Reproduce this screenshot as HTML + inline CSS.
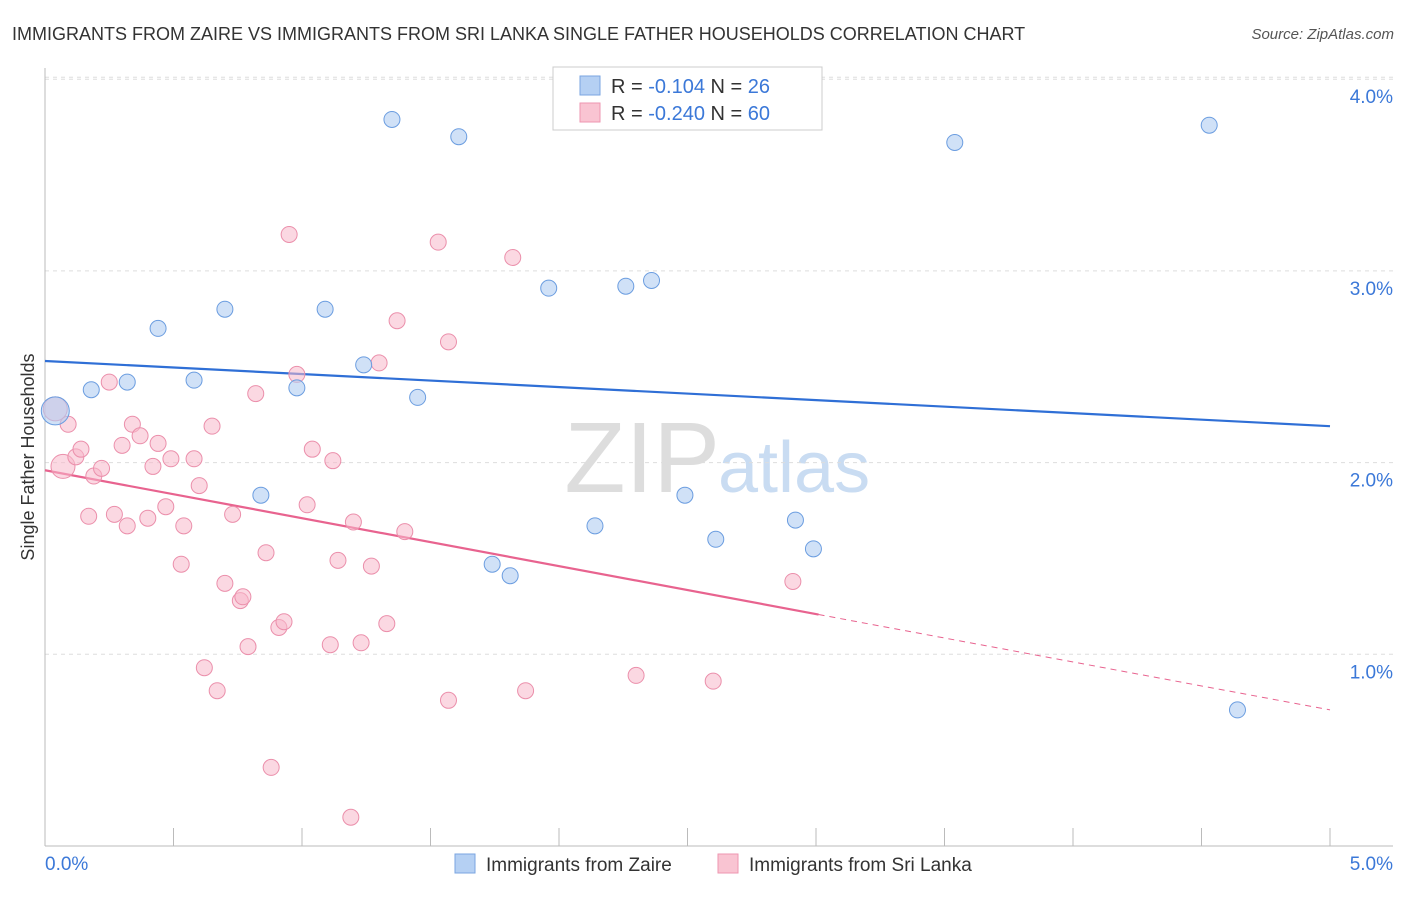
<!DOCTYPE html>
<html><head><meta charset="utf-8"><style>
body{margin:0;background:#fff;font-family:"Liberation Sans",sans-serif}
svg text{font-family:"Liberation Sans",sans-serif}
</style></head><body>
<svg id="chart" width="1406" height="892">
<text x="12" y="40" font-size="18" fill="#333">IMMIGRANTS FROM ZAIRE VS IMMIGRANTS FROM SRI LANKA SINGLE FATHER HOUSEHOLDS CORRELATION CHART</text>
<text x="1394" y="39" font-size="15" fill="#555" font-style="italic" text-anchor="end">Source: ZipAtlas.com</text>
<text x="720" y="492" font-size="100" fill="#ddd" text-anchor="end" font-family="Liberation Serif">ZIP</text>
<text x="718" y="492" font-size="72" fill="#c9dcf2">atlas</text>
<text x="34" y="457" font-size="18" fill="#333" text-anchor="middle" transform="rotate(-90 34 457)">Single Father Households</text>
<g id="grid"></g><g id="lines"></g><g id="pts"></g>
<g>
<rect x="553" y="67" width="269" height="63" fill="#fff" stroke="#ccc"/>
<rect x="580" y="76" width="20" height="19" fill="#b5d0f3" stroke="#7aa5e0"/>
<text x="611" y="93" font-size="20" fill="#333">R = <tspan fill="#3b78d8">-0.104</tspan>   N = <tspan fill="#3b78d8">26</tspan></text>
<rect x="580" y="103" width="20" height="19" fill="#f9c4d2" stroke="#ee96b0"/>
<text x="611" y="120" font-size="20" fill="#333">R = <tspan fill="#3b78d8">-0.240</tspan>   N = <tspan fill="#3b78d8">60</tspan></text>
</g>
<g>
<rect x="455" y="854" width="20" height="19" fill="#b5d0f3" stroke="#7aa5e0"/>
<text x="486" y="871" font-size="19" fill="#333">Immigrants from Zaire</text>
<rect x="718" y="854" width="20" height="19" fill="#f9c4d2" stroke="#ee96b0"/>
<text x="749" y="871" font-size="19" fill="#333">Immigrants from Sri Lanka</text>
</g>
</svg>
<script>
const blueX=[0.04,0.18,0.32,0.44,0.58,0.70,0.84,0.98,1.09,1.24,1.35,1.45,1.61,1.74,1.81,1.96,2.14,2.26,2.36,2.49,2.61,2.92,2.99,3.54,4.53,4.64];
const blueY=[2.27,2.38,2.42,2.70,2.43,2.80,1.83,2.39,2.80,2.51,3.79,2.34,3.70,1.47,1.41,2.91,1.67,2.92,2.95,1.83,1.60,1.70,1.55,3.67,3.76,0.71];
const pinkX=[0.04,0.07,0.09,0.12,0.14,0.17,0.19,0.22,0.25,0.27,0.30,0.32,0.34,0.37,0.40,0.42,0.44,0.47,0.49,0.53,0.54,0.58,0.60,0.62,0.65,0.67,0.70,0.73,0.76,0.77,0.79,0.82,0.86,0.88,0.91,0.93,0.95,0.98,1.02,1.04,1.11,1.12,1.14,1.20,1.23,1.27,1.30,1.33,1.37,1.40,1.53,1.57,1.57,1.82,1.87,2.30,2.60,2.91,1.19];
const pinkY=[2.28,1.98,2.20,2.03,2.07,1.72,1.93,1.97,2.42,1.73,2.09,1.67,2.20,2.14,1.71,1.98,2.10,1.77,2.02,1.47,1.67,2.02,1.88,0.93,2.19,0.81,1.37,1.73,1.28,1.30,1.04,2.36,1.53,0.41,1.14,1.17,3.19,2.46,1.78,2.07,1.05,2.01,1.49,1.69,1.06,1.46,2.52,1.16,2.74,1.64,3.15,2.63,0.76,3.07,0.81,0.89,0.86,1.38,0.15];
const yTicks=[1,2,3,4];
const yTickLabels=["1.0%","2.0%","3.0%","4.0%"];
const xTickLabels=["0.0%","5.0%"];
const blueTrend=[2.53,2.19];
const pinkTrend=[1.96,0.71];
const pinkSolidEnd=3.01;
const NS="http://www.w3.org/2000/svg";
const X=v=>45+v*257, Y=v=>846-v*191.7;
function el(t,a,p){const e=document.createElementNS(NS,t);for(const k in a)e.setAttribute(k,a[k]);p.appendChild(e);return e;}
const grid=document.getElementById('grid'),lines=document.getElementById('lines'),pts=document.getElementById('pts');
yTicks.forEach((t,i)=>{
 const g=el('line',{x1:45,x2:1393,y1:Y(t),y2:Y(t),stroke:'#ddd','stroke-dasharray':'4,4'},grid);
 
 
 const tx=el('text',{x:1393,y:Y(t)+24,'font-size':19,fill:'#3b78d8','text-anchor':'end'},grid);
 tx.textContent=yTickLabels[i];
 
 
});
const gl=el('line',{x1:45,x2:1393,y1:Y(4.0)-2,y2:Y(4.0)-2,stroke:'#ddd','stroke-dasharray':'4,4'},grid);
const ax=el('line',{x1:45,x2:1393,y1:846,y2:846,stroke:'#bbb'},grid);


const ay=el('line',{x1:45,x2:45,y1:68,y2:846,stroke:'#bbb'},grid);


for(let i=0;i<=10;i++){const tk=el('line',{x1:X(i*0.5),x2:X(i*0.5),y1:828,y2:846,stroke:'#bbb'},grid);
 
 }
xTickLabels.forEach((l,i)=>{const t=el('text',{x:i?1393:45,y:870,'font-size':19,fill:'#3b78d8','text-anchor':i?'end':'start'},grid);t.textContent=l;
 
 });
const bt=el('line',{x1:X(0),y1:Y(blueTrend[0]),x2:X(5),y2:Y(blueTrend[1]),stroke:'#2f6fd6','stroke-width':2.2},lines);


const pv=x=>pinkTrend[0]+(pinkTrend[1]-pinkTrend[0])*x/5;
const pt=el('line',{x1:X(0),y1:Y(pv(0)),x2:X(pinkSolidEnd),y2:Y(pv(pinkSolidEnd)),stroke:'#e8638f','stroke-width':2.2},lines);


const pd=el('line',{x1:X(pinkSolidEnd),y1:Y(pv(pinkSolidEnd)),x2:X(5),y2:Y(pv(5)),stroke:'#e8638f','stroke-width':1,'stroke-dasharray':'6,5'},lines);


pinkX.forEach((x,i)=>{const c=el('circle',{cx:X(x),cy:Y(pinkY[i]),r:i<2?12:8,fill:'#f7b8ca','fill-opacity':0.55,stroke:'#eb8fab','stroke-width':1},pts);
 
 });
blueX.forEach((x,i)=>{const c=el('circle',{cx:X(x),cy:Y(blueY[i]),r:i==0?14:8,fill:'#b0cdf2','fill-opacity':0.6,stroke:'#6b9de0','stroke-width':1},pts);
 
 });
</script>
</body></html>
